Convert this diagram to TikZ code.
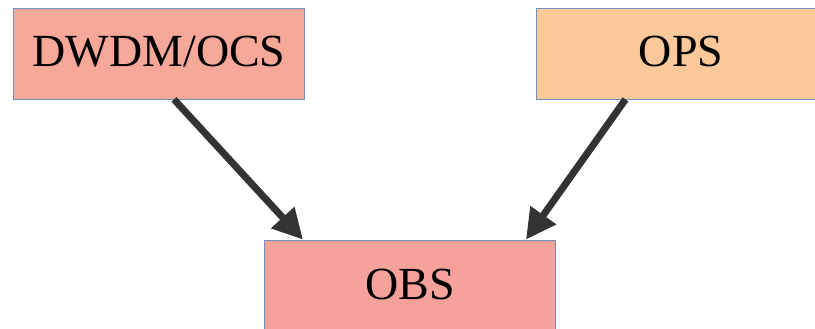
\documentclass[tikz,border=0pt]{standalone}
\usepackage{fontspec}
\setmainfont{Liberation Serif}
\usetikzlibrary{arrows.meta,calc}
\definecolor{boxA}{HTML}{F8A898}
\definecolor{boxB}{HTML}{FBC89A}
\definecolor{boxC}{HTML}{F6A29A}
\definecolor{edge}{HTML}{7090C0}
\definecolor{arr}{HTML}{333333}
\tikzset{
  blk/.style={draw=edge, line width=0.8pt, minimum width=291pt, minimum height=91pt, inner sep=0pt},
  lbl/.style={anchor=base, inner sep=0pt, font=\fontsize{46}{46}\selectfont},
  conn/.style={draw=arr, line width=7pt, -{Triangle[length=30pt,width=30pt]}}
}
\begin{document}
\begin{tikzpicture}[x=1pt,y=1pt]
\useasboundingbox (0,0) rectangle (815,329);
\clip (0,0) rectangle (815,329);
\node[blk, fill=boxA] (dwdm) at (159,275.5) {};
\node[blk, fill=boxB] (ops) at (681.5,275.5) {};
\node[blk, fill=boxC, minimum height=95pt] (obs) at (410,41.5) {};
\node[lbl] (dwdmt) at (159,262) {DWDM/OCS};
\node[lbl] (opst) at (681,262) {OPS};
\node[lbl] (obst) at (410,29) {OBS};
\coordinate (s1) at ($(dwdm.south)+(15,0)$);
\coordinate (t1) at ($(obs.north)+(-107,0)$);
\coordinate (s2) at ($(ops.south)+(-56,0)$);
\coordinate (t2) at ($(obs.north)+(116,0)$);
\draw[conn] (s1) -- (t1);
\draw[conn] (s2) -- (t2);
\end{tikzpicture}
\end{document}
